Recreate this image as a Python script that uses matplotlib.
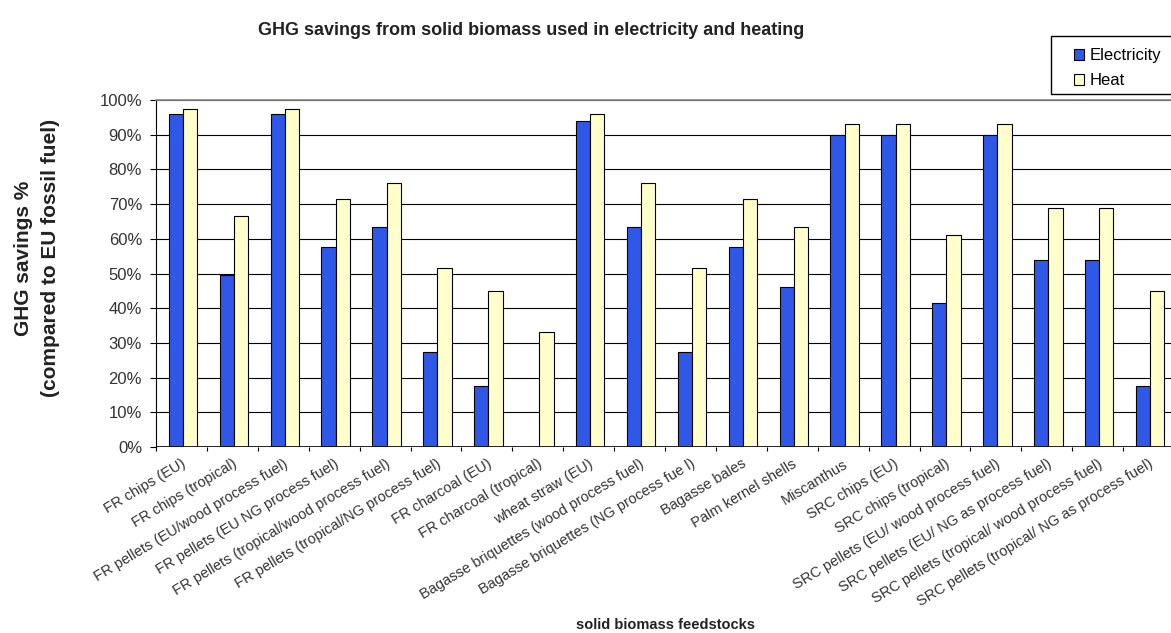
import numpy as np
import matplotlib
matplotlib.use('Agg')
import matplotlib.pyplot as plt
from matplotlib.patches import Rectangle

plt.rcParams['font.family'] = ['Liberation Sans', 'DejaVu Sans']

# 数据: 原料类别 + 两组节省比例(%)
feedstocks = [
    'FR chips (EU)', 'FR chips (tropical)', 'FR pellets (EU/wood process fuel)',
    'FR pellets (EU NG process fuel)', 'FR pellets (tropical/wood process fuel)',
    'FR pellets (tropical/NG process fuel)', 'FR charcoal (EU)', 'FR charcoal (tropical)',
    'wheat straw (EU)', 'Bagasse briquettes (wood process fuel)',
    'Bagasse briquettes (NG process fue l)', 'Bagasse bales', 'Palm kernel shells',
    'Miscanthus', 'SRC chips (EU)', 'SRC chips (tropical)',
    'SRC pellets (EU/ wood process fuel)', 'SRC pellets (EU/ NG as process fuel)',
    'SRC pellets (tropical/ wood process fuel)', 'SRC pellets (tropical/ NG as process fuel)',
]
electricity = [96, 49.5, 96, 57.5, 63.5, 27.5, 17.5, 0, 94, 63.5,
               27.5, 57.5, 46, 90, 90, 41.5, 90, 54, 54, 17.5]
heat = [97.5, 66.5, 97.5, 71.5, 76, 51.5, 45, 33, 96, 76,
        51.5, 71.5, 63.5, 93, 93, 61, 93, 69, 69, 45]
yticks = [0, 10, 20, 30, 40, 50, 60, 70, 80, 90, 100]

W, H = 1171, 633
fig = plt.figure(figsize=(W / 100, H / 100), dpi=100)
ax = fig.add_axes([156 / W, 1 - 447 / H, 1018 / W, 347 / H])

# 1. 画柱子
x = np.arange(len(feedstocks))
w = 0.28
ax.bar(x - w / 2 + 0.03, electricity, w, color='#3058E8', edgecolor='black', linewidth=0.8,
       label='Electricity', zorder=3)
ax.bar(x + w / 2 + 0.03, heat, w, color='#FFFFCC', edgecolor='black', linewidth=0.8,
       label='Heat', zorder=3)

# 2. 坐标轴
ax.set_xlim(-0.5, len(feedstocks) - 0.5)
ax.set_ylim(0, 100)
ax.set_yticks(yticks)
ax.set_yticklabels([f'{v}%' for v in yticks], fontsize=12, color='#333333')
ax.set_xticks(np.arange(len(feedstocks) + 1) - 0.5)
ax.set_xticklabels([''] * (len(feedstocks) + 1))
ax.set_xticks(x, minor=True)
ax.set_xticklabels(feedstocks, minor=True, rotation=31, ha='right', rotation_mode='anchor',
                   fontsize=10.5, color='#333333')
ax.tick_params(axis='x', which='minor', length=0, pad=7)
ax.tick_params(axis='x', which='major', length=3, direction='out')
ax.tick_params(axis='y', length=4, direction='out', pad=6)

ax.grid(axis='y', color='black', linewidth=0.8, zorder=0)
for s in ['right', 'bottom']:
    ax.spines[s].set_visible(False)
ax.spines['top'].set_color('#888888')
ax.spines['top'].set_linewidth(1.2)
ax.axhline(0, color='black', linewidth=1.2, zorder=4)

# 3. 标题和轴标签
fig.text(37 / W, 1 - 258 / H, 'GHG savings %\n(compared to EU fossil fuel)', rotation=90,
         ha='center', va='center', multialignment='center', fontsize=15, fontweight='bold',
         linespacing=1.55, color='#222222')
fig.text(665 / W, 1 - 625 / H, 'solid biomass feedstocks', fontsize=10.5, fontweight='bold',
         ha='center', va='center', color='#222222')
fig.text(258 / W, 1 - 35 / H, 'GHG savings from solid biomass used in electricity and heating',
         fontsize=13, fontweight='bold', ha='left', va='baseline', color='#222222')

# 4. 图例
ax.legend(loc='upper left', bbox_to_anchor=(1066 / W, 1 - 40 / H),
          bbox_transform=fig.transFigure, fontsize=12, frameon=False,
          handlelength=0.6, handleheight=0.6, handletextpad=0.3,
          borderpad=0, labelspacing=0.6)
fig.add_artist(Rectangle((1051 / W, 1 - 94 / H), 130 / W, 58 / H, transform=fig.transFigure,
                         fill=False, edgecolor='black', linewidth=1))

fig.savefig('out.png', dpi=100)
